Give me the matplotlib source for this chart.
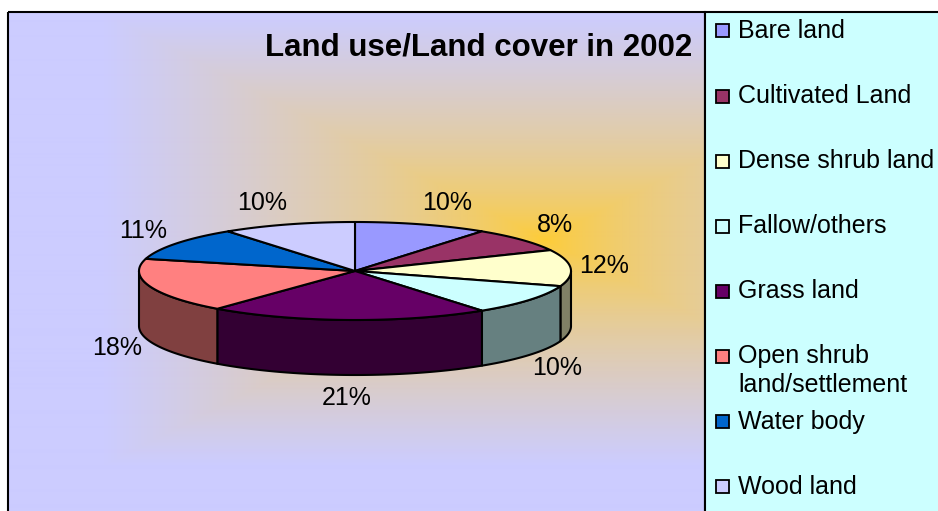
import numpy as np
import matplotlib.pyplot as plt
from matplotlib.patches import Polygon, Rectangle
from matplotlib.colors import to_rgb

plt.rcParams['font.family'] = ['Liberation Sans', 'DejaVu Sans']

# land cover classes and their share (%)
categories = ['Bare land', 'Cultivated Land', 'Dense shrub land', 'Fallow/others',
              'Grass land', 'Open shrub\nland/settlement', 'Water body', 'Wood land']
shares = [10, 8, 12, 10, 21, 18, 11, 10]
colors = ['#9999FF', '#993366', '#FFFFCC', '#CCFFFF',
          '#660066', '#FF8080', '#0066CC', '#CCCCFF']
title = 'Land use/Land cover in 2002'

W, H = 938, 511
fig = plt.figure(figsize=(W / 100, H / 100), dpi=100)
ax = fig.add_axes([0, 0, 1, 1])

# chart area: gold -> lavender gradient from the centre
x0, y0, x1, y1 = 8, 12, 705, H + 5
gx, gy = np.meshgrid(np.arange(x0, x1) + 0.5, np.arange(y0, y1) + 0.5)
t = np.maximum(np.abs(gx - 545) / 440, np.abs(gy - 240) / 225)
t = np.clip(t, 0, 1) ** 0.7
t = t[..., None]
gold = np.array(to_rgb('#FFCC33'))
lav = np.array(to_rgb('#CCCCFF'))
ax.imshow(gold * (1 - t) + lav * t, extent=(x0, x1, y1, y0),
          aspect='auto', interpolation='bilinear', zorder=0)
ax.add_patch(Rectangle((x0, y0), x1 - x0, y1 - y0, fill=False,
                       ec='black', lw=1.5, zorder=1))

# legend box
ax.add_patch(Rectangle((x1, y0), W - x1 + 10, y1 - y0, fc='#CCFFFF',
                       ec='black', lw=1.5, zorder=1))

ax.text(479, 47, title, fontsize=22.5, fontweight='bold',
        ha='center', va='center', zorder=5)

# 3d pie, clockwise from 12 o'clock
cx, cy, rx, ry, depth = 355, 271, 216, 49, 55
bounds = np.concatenate([[0], np.cumsum(shares)]) / sum(shares) * 360


def rim(a, b, n=90):
    p = np.radians(np.linspace(a, b, n))
    return cx + rx * np.sin(p), cy - ry * np.cos(p)


# side walls (front half only)
for i in range(len(shares)):
    lo, hi = max(bounds[i], 90), min(bounds[i + 1], 270)
    if lo >= hi:
        continue
    xs, ys = rim(lo, hi)
    pts = np.column_stack([np.r_[xs, xs[::-1]], np.r_[ys, ys[::-1] + depth]])
    dark = tuple(0.5 * np.array(to_rgb(colors[i])))
    ax.add_patch(Polygon(pts, closed=True, fc=dark, ec='black', lw=1.5,
                         joinstyle='round', zorder=2))

# top faces
for i in range(len(shares)):
    xs, ys = rim(bounds[i], bounds[i + 1])
    pts = np.column_stack([np.r_[cx, xs], np.r_[cy, ys]])
    ax.add_patch(Polygon(pts, closed=True, fc=colors[i], ec='black', lw=1.5,
                         joinstyle='round', zorder=3))

# percentage labels outside the pie
for i, v in enumerate(shares):
    mid = np.radians((bounds[i] + bounds[i + 1]) / 2)
    s, c = np.sin(mid), np.cos(mid)
    rxl = 250 + 60 * max(c, 0) ** 4
    lx = cx + rxl * s
    ly = cy - 72 * c + (depth if c < 0 else 0)
    ax.text(lx, ly, f'{v}%', fontsize=18, ha='center', va='center', zorder=5)

# legend entries
for i, (lab, col) in enumerate(zip(categories, colors)):
    ly = 31 + 65.1 * i
    ax.add_patch(Rectangle((716, ly - 6.5), 13, 13, fc=col, ec='black',
                           lw=1.3, zorder=4))
    for j, line in enumerate(lab.split('\n')):
        ax.text(738, ly + 29 * j, line, fontsize=18, ha='left',
                va='center', zorder=5)

ax.set_xlim(0, W)
ax.set_ylim(H, 0)
ax.axis('off')
fig.savefig('out.png', dpi=100)
